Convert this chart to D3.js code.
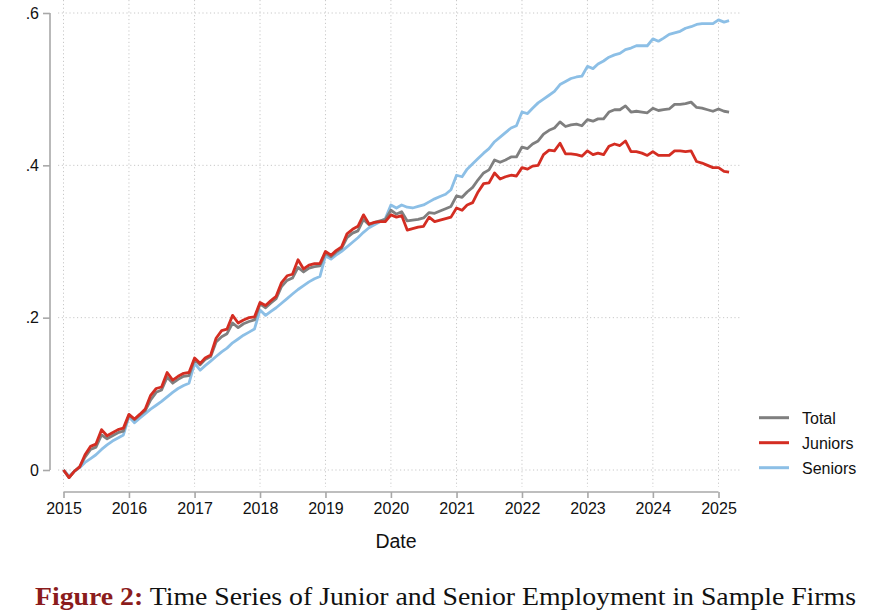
<!DOCTYPE html>
<html>
<head>
<meta charset="utf-8">
<script src="https://cdn.jsdelivr.net/npm/d3@7"></script>
<style>
  body { margin: 0; background: #fff; }
  svg { display: block; }
</style>
</head>
<body>
<svg id="chart" width="885" height="615"></svg>
<script>
// monthly series, Jan 2015 .. Mar 2025
const seriesNames = ["Total", "Juniors", "Seniors"]
const seriesColors = ["#7f7f7f", "#d42d22", "#8cbfe6"]

const total = [
  0, -0.010, -0.002, 0.004, 0.017, 0.027, 0.030, 0.046, 0.041, 0.045, 0.049, 0.051,
  0.072, 0.066, 0.072, 0.078, 0.092, 0.102, 0.105, 0.122, 0.114, 0.119, 0.123, 0.124,
  0.145, 0.138, 0.145, 0.149, 0.168, 0.175, 0.179, 0.193, 0.187, 0.192, 0.195, 0.197,
  0.218, 0.213, 0.219, 0.225, 0.241, 0.249, 0.252, 0.266, 0.260, 0.265, 0.267, 0.268,
  0.285, 0.280, 0.286, 0.291, 0.305, 0.311, 0.314, 0.329, 0.322, 0.325, 0.327, 0.329,
  0.341, 0.336, 0.339, 0.327, 0.328, 0.329, 0.331, 0.338, 0.337, 0.340, 0.343, 0.346,
  0.360, 0.358, 0.365, 0.371, 0.381, 0.390, 0.394, 0.407, 0.404, 0.407, 0.411, 0.411,
  0.424, 0.422, 0.428, 0.432, 0.441, 0.446, 0.449, 0.457, 0.451, 0.453, 0.454, 0.452,
  0.460, 0.458, 0.461, 0.461, 0.470, 0.473, 0.473, 0.478, 0.470, 0.471, 0.470, 0.469,
  0.475, 0.472, 0.473, 0.474, 0.480, 0.480, 0.481, 0.483, 0.476, 0.475, 0.473, 0.471,
  0.474, 0.471, 0.470
]

const juniors = [
  0, -0.010, -0.002, 0.004, 0.020, 0.031, 0.034, 0.053, 0.045, 0.049, 0.053, 0.055,
  0.073, 0.067, 0.073, 0.080, 0.098, 0.107, 0.109, 0.128, 0.118, 0.123, 0.127, 0.128,
  0.147, 0.140, 0.147, 0.151, 0.173, 0.183, 0.185, 0.203, 0.193, 0.197, 0.200, 0.201,
  0.220, 0.216, 0.222, 0.228, 0.246, 0.255, 0.257, 0.276, 0.264, 0.269, 0.271, 0.271,
  0.287, 0.282, 0.288, 0.293, 0.310, 0.316, 0.320, 0.335, 0.323, 0.325, 0.326, 0.326,
  0.335, 0.332, 0.334, 0.315, 0.317, 0.319, 0.320, 0.332, 0.326, 0.328, 0.330, 0.332,
  0.344, 0.341, 0.348, 0.351, 0.365, 0.376, 0.377, 0.390, 0.382, 0.385, 0.387, 0.386,
  0.397, 0.395, 0.399, 0.400, 0.414, 0.420, 0.419, 0.429, 0.415, 0.415, 0.414, 0.412,
  0.419, 0.414, 0.416, 0.414, 0.425, 0.428, 0.426, 0.432, 0.418, 0.418, 0.416, 0.413,
  0.418, 0.413, 0.413, 0.413, 0.419, 0.419, 0.418, 0.419, 0.405, 0.403, 0.400, 0.397,
  0.397, 0.392, 0.391
]

const seniors = [
  0, -0.008, -0.002, 0.003, 0.010, 0.015, 0.020, 0.027, 0.033, 0.038, 0.042, 0.046,
  0.070, 0.062, 0.068, 0.074, 0.080, 0.085, 0.090, 0.096, 0.102, 0.107, 0.111, 0.114,
  0.140, 0.131, 0.137, 0.143, 0.149, 0.155, 0.160, 0.167, 0.172, 0.177, 0.181, 0.185,
  0.210, 0.203, 0.208, 0.213, 0.219, 0.225, 0.231, 0.237, 0.242, 0.247, 0.251, 0.254,
  0.281, 0.277, 0.282, 0.287, 0.293, 0.299, 0.305, 0.312, 0.318, 0.322, 0.326, 0.330,
  0.348, 0.344, 0.348, 0.345, 0.344, 0.346, 0.348, 0.352, 0.356, 0.359, 0.362, 0.368,
  0.387, 0.385, 0.395, 0.402, 0.409, 0.416, 0.422, 0.431, 0.437, 0.443, 0.449, 0.452,
  0.470, 0.468, 0.475, 0.482, 0.487, 0.492, 0.497, 0.506, 0.510, 0.514, 0.516, 0.517,
  0.530, 0.527, 0.533, 0.537, 0.542, 0.545, 0.547, 0.552, 0.554, 0.557, 0.557, 0.557,
  0.566, 0.563, 0.567, 0.572, 0.574, 0.576, 0.580, 0.582, 0.585, 0.586, 0.586, 0.586,
  0.591, 0.588, 0.590
]

const yTicks = [0, 0.2, 0.4, 0.6]
const yTickLabels = ["0", ".2", ".4", ".6"]
const xTickYears = [2015, 2016, 2017, 2018, 2019, 2020, 2021, 2022, 2023, 2024, 2025]

const months = d3.timeMonth.range(new Date(2015, 0, 1), new Date(2025, 3, 1))
const seriesData = [total, juniors, seniors]

const svg = d3.select("#chart")
const font = "'Liberation Sans', Arial, sans-serif"

const x = d3.scaleTime()
  .domain([new Date(2015, 0, 1), new Date(2025, 0, 1)])
  .range([63.5, 718.5])

const y = d3.scaleLinear()
  .domain([0, 0.6])
  .range([470, 13])

// grid
const grid = svg.append("g")
  .attr("stroke", "#c8c8c8")
  .attr("stroke-width", 1)
  .attr("stroke-dasharray", "1.2 2.6")

grid.selectAll("line.h")
  .data(yTicks)
  .enter()
  .append("line")
  .attr("x1", 58).attr("x2", 742)
  .attr("y1", d => y(d)).attr("y2", d => y(d))

grid.selectAll("line.v")
  .data(xTickYears)
  .enter()
  .append("line")
  .attr("x1", d => x(new Date(d, 0, 1))).attr("x2", d => x(new Date(d, 0, 1)))
  .attr("y1", 0).attr("y2", 487)

// y axis
const yAxis = svg.append("g")
  .attr("transform", "translate(50,0)")
  .call(d3.axisLeft(y).tickValues(yTicks).tickFormat((d, i) => yTickLabels[i]).tickSize(7).tickPadding(4))
yAxis.select(".domain").attr("d", `M0,${y(0.6)}V${y(0)}`)

// x axis
const xAxis = svg.append("g")
  .attr("transform", "translate(0,492)")
  .call(d3.axisBottom(x)
    .tickValues(xTickYears.map(d => new Date(d, 0, 1)))
    .tickFormat(d3.timeFormat("%Y"))
    .tickSize(6).tickPadding(5))
xAxis.select(".domain").attr("d", `M${x(new Date(2015, 0, 1))},0H${x(new Date(2025, 0, 1))}`)

svg.selectAll(".domain, .tick line")
  .attr("stroke", "#a8a8a8")
  .attr("stroke-width", 1.6)
svg.selectAll(".tick text")
  .attr("font-family", font)
  .attr("font-size", "16px")
  .attr("fill", "#111")

svg.append("text")
  .attr("x", 396).attr("y", 548)
  .attr("text-anchor", "middle")
  .attr("font-family", font)
  .attr("font-size", "19.5px")
  .attr("fill", "#111")
  .text("Date")

// lines
const line = d3.line()
  .x((d, i) => x(months[i]))
  .y(d => y(d))

svg.append("g")
  .selectAll("path")
  .data([seriesData[2], seriesData[0], seriesData[1]])
  .enter()
  .append("path")
  .attr("d", line)
  .attr("fill", "none")
  .attr("stroke", (d, i) => [seriesColors[2], seriesColors[0], seriesColors[1]][i])
  .attr("stroke-width", 2.8)
  .attr("stroke-linejoin", "round")

// legend
const legend = svg.append("g")
  .selectAll("g")
  .data(seriesNames)
  .enter()
  .append("g")
  .attr("transform", (d, i) => `translate(759,${417.7 + i * 25})`)

legend.append("line")
  .attr("x1", 0).attr("x2", 30)
  .attr("stroke", (d, i) => seriesColors[i])
  .attr("stroke-width", 3)

legend.append("text")
  .attr("x", 43).attr("y", 6)
  .attr("font-family", font)
  .attr("font-size", "16px")
  .attr("fill", "#111")
  .text(d => d)

// caption
const caption = svg.append("text")
  .attr("x", 35).attr("y", 605)
  .attr("font-family", "'Liberation Serif', 'DejaVu Serif', serif")
  .attr("font-size", "26px")
  .attr("textLength", 821)
  .attr("lengthAdjust", "spacingAndGlyphs")

caption.append("tspan")
  .attr("fill", "#8b1c1c")
  .attr("font-weight", "bold")
  .text("Figure 2:")
caption.append("tspan")
  .attr("fill", "#111")
  .text(" Time Series of Junior and Senior Employment in Sample Firms")
</script>
</body>
</html>
